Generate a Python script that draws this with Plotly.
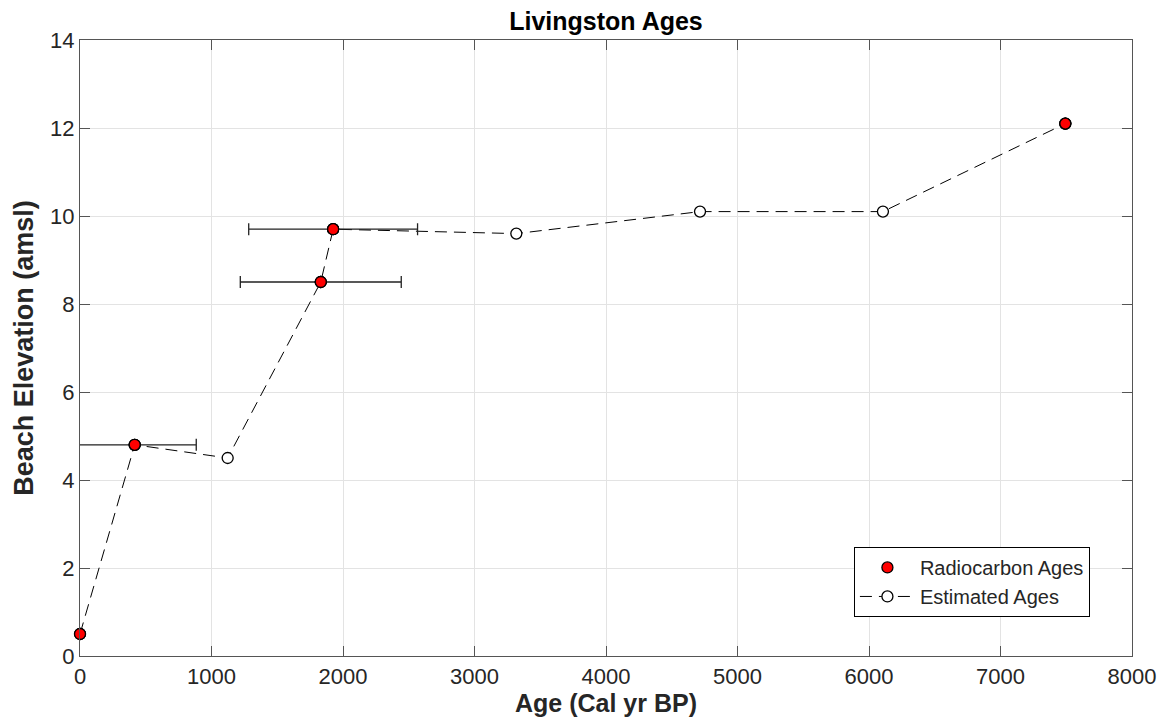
import plotly.graph_objects as go

# Radiocarbon ages (with 1-sigma age uncertainty)
rc_age = [0, 416, 1831, 1925, 7493]
rc_elev = [0.5, 4.8, 8.5, 9.7, 12.1]
rc_err = [0, 468, 612, 642, 0]

# Estimated ages
est_age = [1123, 3318, 4715, 6106]
est_elev = [4.5, 9.6, 10.1, 10.1]

x_ticks = [0, 1000, 2000, 3000, 4000, 5000, 6000, 7000, 8000]
y_ticks = [0, 2, 4, 6, 8, 10, 12, 14]

# full age-elevation path through all points
path = sorted(zip(rc_age + est_age, rc_elev + est_elev))
path_age = [p[0] for p in path]
path_elev = [p[1] for p in path]

FONT = "Liberation Sans, Arial, Helvetica, sans-serif"
AX = "#262626"

fig = go.Figure()

# dashed line through every point with open markers
fig.add_trace(go.Scatter(
    x=path_age, y=path_elev, mode="lines+markers", name="Estimated Ages",
    line=dict(color="black", width=1, dash="12px,7px"),
    marker=dict(symbol="circle", size=11, color="white",
                line=dict(color="black", width=1.3)),
    cliponaxis=False, legendrank=2,
))

# radiocarbon ages with horizontal error bars (clipped to axes)
fig.add_trace(go.Scatter(
    x=rc_age, y=rc_elev, mode="markers", name="Radiocarbon Ages",
    marker=dict(symbol="circle", size=11, color="#ff0000",
                line=dict(color="black", width=1.3)),
    error_x=dict(type="data", array=rc_err, visible=True,
                 color="#222222", thickness=1.3, width=6),
    cliponaxis=True, legendrank=1,
))

# unclipped markers on top
fig.add_trace(go.Scatter(
    x=rc_age, y=rc_elev, mode="markers", showlegend=False,
    marker=dict(symbol="circle", size=11, color="#ff0000",
                line=dict(color="black", width=1.3)),
    cliponaxis=False, hoverinfo="skip",
))

axis_common = dict(
    showgrid=True, gridcolor="#e3e3e3", gridwidth=1,
    showline=True, linecolor="#555555", linewidth=1.3, mirror="ticks",
    ticks="inside", ticklen=10, tickcolor="#555555", tickwidth=1,
    zeroline=False, automargin=False,
    tickfont=dict(family=FONT, size=22, color=AX),
)

fig.update_xaxes(
    range=[0, 8000], tickvals=x_ticks, ticktext=[str(v) for v in x_ticks],
    title=dict(text="<b>Age (Cal yr BP)</b>", font=dict(family=FONT, size=25, color=AX), standoff=5),
    **axis_common,
)
fig.update_yaxes(
    range=[0, 14], tickvals=y_ticks, ticktext=[str(v) for v in y_ticks],
    title=dict(text="<b>Beach Elevation (amsl)</b>", font=dict(family=FONT, size=27, color=AX), standoff=8),
    **axis_common,
)

fig.update_layout(
    width=1164, height=728,
    margin=dict(l=80, r=32, t=40, b=72),
    paper_bgcolor="white", plot_bgcolor="white",
    title=dict(text="<b>Livingston Ages</b>", x=0.5, xref="paper", xanchor="center",
               y=1 - 21 / 728, yanchor="middle",
               font=dict(family=FONT, size=25, color="black")),
    legend=dict(x=0.96, y=0.177, xanchor="right", yanchor="top",
                bgcolor="white", bordercolor="black", borderwidth=1,
                font=dict(family=FONT, size=20, color=AX),
                tracegroupgap=0, itemwidth=55),
    showlegend=True,
)

fig.write_html("out.html")
